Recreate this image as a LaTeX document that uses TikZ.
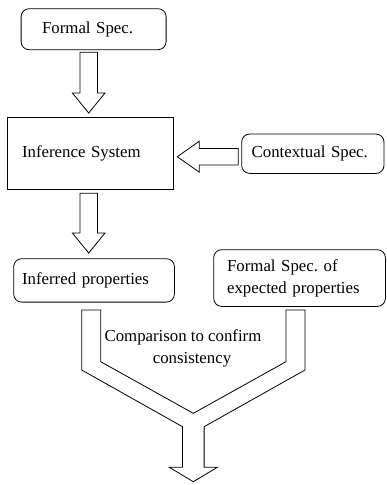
\documentclass[tikz,border=0pt]{standalone}
\usepackage{fontspec}
\setmainfont{Liberation Serif}
\usetikzlibrary{positioning, calc}
\frenchspacing

\tikzset{
	spec/.style={draw, rounded corners=8pt, align=left, inner ysep=0pt, anchor=north west},
	system/.style={draw, align=left, inner ysep=0pt, anchor=north west},
	hollow/.style={draw, line width=.8pt, fill=white, line join=miter},
	every node/.style={font=\fontsize{16.8}{22}\selectfont, line width=.8pt}
}

% hollow block arrow pointing down, #1 = top of shaft, #2 = tip
\newcommand{\hollowdown}[2]{
	\draw[hollow] ($(#1)+(-8.7,0)$) -- ($(#2)+(-8.7,-20)$) -- ($(#2)+(-16.3,-20)$) -- (#2)
		-- ($(#2)+(16.3,-20)$) -- ($(#2)+(8.7,-20)$) -- ($(#1)+(8.7,0)$) -- cycle;
}

\begin{document}
\begin{tikzpicture}[x=1pt, y=-1pt]
		\useasboundingbox (0,0) rectangle (386,485);
		
		\node[spec, text width=103pt, inner xsep=21pt, minimum height=41pt]	(formal spec) at (20.7,8.3) {Formal Spec.};
		\node[system, text width=137pt, inner xsep=14.4pt, minimum height=72pt]	(inference) at (7.3,117.3) {Inference System};
		\node[spec, anchor=west, text width=122.3pt, inner xsep=10pt, minimum height=39.4pt]	(context spec) [right=67.4pt of inference] {Contextual Spec.};
		\node[spec, text width=143.9pt, inner xsep=8.4pt, minimum height=43.4pt]	(inferred) at (13.3,258.3) {Inferred properties};
		\node[spec, text width=144.9pt, inner xsep=13.4pt, minimum height=56.7pt]	(expected) at (213.3,249.3) {Formal Spec. of\\expected properties};
		
		\node[align=center]	(comparison) at (183,348.3) {Comparison to confirm\\\hspace*{18pt}consistency};
		
		% down arrows
		\coordinate (fs out) at (88.7,52.3);
		\coordinate (inf in) at (88.7,113);
		\hollowdown{fs out}{inf in}
		\coordinate (inf out) at (88.7,193.3);
		\coordinate (ip in) at (88.7,253);
		\hollowdown{inf out}{ip in}
		
		% arrow from contextual spec.
		\coordinate (cs out) at (238.3,156.7);
		\coordinate (inf side) at (177.3,156.7);
		\draw[hollow] ($(cs out)+(0,-8.3)$) -- ($(inf side)+(22,-8.3)$) -- ($(inf side)+(22,-15.5)$) -- (inf side)
			-- ($(inf side)+(22,15.5)$) -- ($(inf side)+(22,8.3)$) -- ($(cs out)+(0,8.3)$) -- cycle;
		
		% merging arrow
		\coordinate (merge) at (193.3,413.3);
		\coordinate (result) at (193.3,481.7);
		\draw[hollow] (81.7,310) -- (81.7,370) -- (182.5,426.7) -- (182.5,467.3) -- (169.3,467.3) -- (result)
			-- (217.3,467.3) -- (204.1,467.3) -- (204.1,426.7) -- (305,370) -- (305,310) -- (286,310)
			-- (286,361.7) -- (merge) -- (100.7,361.7) -- (100.7,310) -- cycle;
		
\end{tikzpicture}
\end{document}
